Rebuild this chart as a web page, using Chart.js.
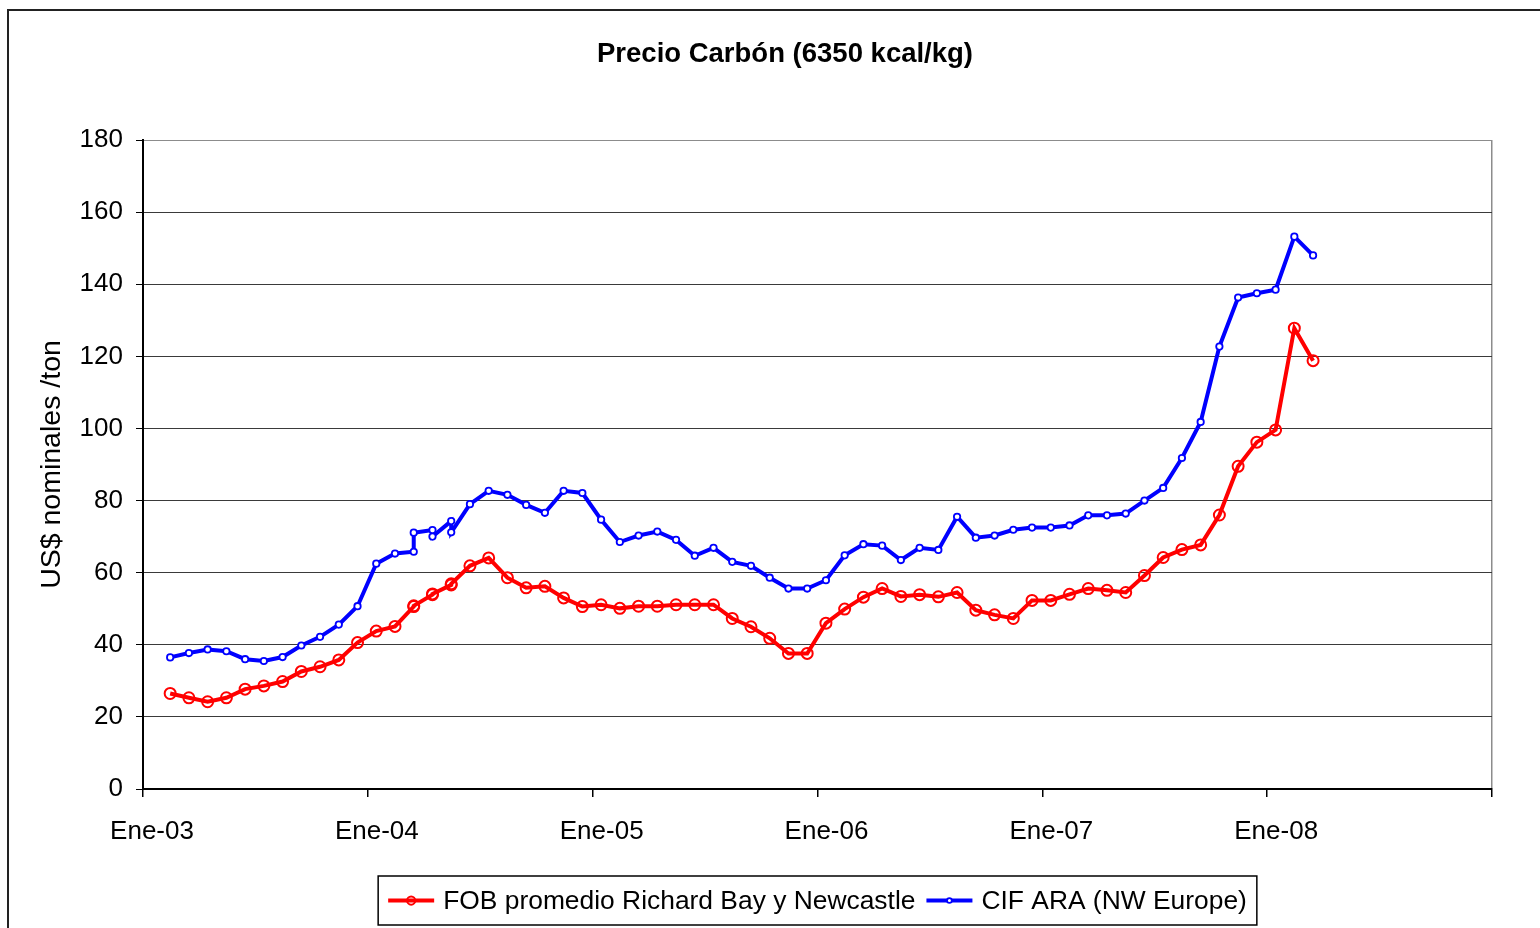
<!DOCTYPE html>
<html lang="es">
<head>
  <meta charset="UTF-8">
  <title>Precio Carbón (6350 kcal/kg)</title>
  <script src="https://cdn.jsdelivr.net/npm/chart.js"></script>
  <style>
    html, body { margin: 0; padding: 0; background: #fff; }
    canvas { display: block; }
  </style>
</head>
<body>
  <canvas id="coalChart" width="1540" height="928"></canvas>
  <script>
    const FONT = "'Liberation Sans', Arial, sans-serif";

    // x position in months counted from Ene-03 (in 2004 some months carry two readings)
    const months = [1.45, 2.45, 3.45, 4.45, 5.45, 6.45, 7.45, 8.45, 9.45, 10.45, 11.45, 12.45, 13.45,
      14.45, 14.45, 15.45, 15.45, 16.45, 16.45,
      17.45, 18.45, 19.45, 20.45, 21.45, 22.45, 23.45, 24.45, 25.45, 26.45,
      27.45, 28.45, 29.45, 30.45, 31.45, 32.45, 33.45, 34.45, 35.45, 36.45,
      37.45, 38.45, 39.45, 40.45, 41.45, 42.45, 43.45, 44.45, 45.45, 46.45,
      47.45, 48.45, 49.45, 50.45, 51.45, 52.45, 53.45, 54.45, 55.45, 56.45,
      57.45, 58.45, 59.45, 60.45, 61.45, 62.45];

    // FOB promedio Richard Bay y Newcastle
    const fobValues = [26.5, 25.3, 24.2, 25.3, 27.7, 28.6, 29.8, 32.6, 33.9, 35.8, 40.6, 43.8, 45.1,
      50.6, 50.8, 53.9, 54.1, 56.6, 56.9,
      61.9, 64.1, 58.6, 55.8, 56.2, 53, 50.6, 51.1, 50.1, 50.7,
      50.7, 51.1, 51.1, 51.1, 47.3, 45, 41.8, 37.6, 37.6, 46,
      49.9, 53.2, 55.6, 53.4, 53.9, 53.3, 54.5, 49.6, 48.3, 47.3,
      52.3, 52.3, 54, 55.6, 55.1, 54.5, 59.2, 64.2, 66.4, 67.7,
      76, 89.5, 96.2, 99.6, 127.8, 118.8];

    // CIF ARA (NW Europe)
    const cifValues = [36.5, 37.7, 38.7, 38.2, 36, 35.5, 36.6, 39.8, 42.2, 45.6, 50.7, 62.5, 65.3,
      65.8, 71.1, 71.8, 70.0, 74.3, 71.2,
      79, 82.7, 81.6, 78.8, 76.6, 82.7, 82.1, 74.7, 68.5, 70.3,
      71.4, 69.1, 64.7, 66.9, 63, 61.9, 58.6, 55.6, 55.6, 57.9,
      64.8, 67.9, 67.5, 63.5, 66.9, 66.3, 75.5, 69.7, 70.3, 71.9,
      72.5, 72.5, 73.1, 75.9, 75.9, 76.4, 80, 83.5, 91.8, 101.8,
      122.7, 136.3, 137.5, 138.5, 153.2, 148];

    const xTickLabels = ['Ene-03', 'Ene-04', 'Ene-05', 'Ene-06', 'Ene-07', 'Ene-08', ''];
    const seriesNames = ['FOB promedio Richard Bay y Newcastle', 'CIF ARA (NW Europe)'];
    const chartTitle = 'Precio Carbón (6350 kcal/kg)';

    function toPoints(values) {
      return values.map((v, i) => ({ x: months[i], y: v }));
    }

    // white page, dark frame on top and left, and the title (centred on the whole Excel frame)
    const framePlugin = {
      id: 'frame',
      beforeDraw(chart) {
        const ctx = chart.ctx;
        ctx.save();
        ctx.fillStyle = '#fff';
        ctx.fillRect(0, 0, chart.width, chart.height);
        ctx.strokeStyle = '#222';
        ctx.lineWidth = 2;
        ctx.beginPath();
        ctx.moveTo(8, chart.height);
        ctx.lineTo(8, 10);
        ctx.lineTo(chart.width, 10);
        ctx.stroke();
        ctx.font = 'bold 27.5px ' + FONT;
        ctx.fillStyle = '#000';
        ctx.textAlign = 'center';
        ctx.textBaseline = 'middle';
        ctx.fillText(chartTitle, 785, 54);
        ctx.restore();
      }
    };

    // boxed legend under the axis, line sample + marker like the original
    const legendBox = {
      id: 'legendBox',
      afterDraw(chart) {
        const ctx = chart.ctx;
        const area = chart.chartArea;
        const sample = 46, gap = 9, itemGap = 11, pad = 10;
        ctx.save();
        ctx.font = '26.4px ' + FONT;
        const widths = seriesNames.map(t => ctx.measureText(t).width);
        let total = pad * 2 + itemGap * (widths.length - 1);
        widths.forEach(w => { total += sample + gap + w; });
        let x = (area.left + area.right) / 2 - total / 2;
        const top = chart.height - 52, h = 49, cy = top + h / 2;
        ctx.strokeStyle = '#000';
        ctx.lineWidth = 1.5;
        ctx.strokeRect(x, top, total, h);
        x += pad;
        chart.data.datasets.forEach((ds, i) => {
          ctx.strokeStyle = ds.borderColor;
          ctx.lineWidth = ds.borderWidth;
          ctx.beginPath();
          ctx.moveTo(x, cy);
          ctx.lineTo(x + sample, cy);
          ctx.stroke();
          ctx.lineWidth = ds.pointBorderWidth;
          ctx.fillStyle = ds.pointBackgroundColor;
          ctx.beginPath();
          ctx.arc(x + sample / 2, cy, ds.pointRadius * 0.75, 0, Math.PI * 2);
          ctx.fill();
          ctx.stroke();
          ctx.fillStyle = '#000';
          ctx.textBaseline = 'middle';
          ctx.fillText(seriesNames[i], x + sample + gap, cy + 1);
          x += sample + gap + widths[i] + itemGap;
        });
        ctx.restore();
      }
    };

    new Chart(document.getElementById('coalChart'), {
      type: 'line',
      data: {
        datasets: [{
          label: seriesNames[0],
          data: toPoints(fobValues),
          borderColor: '#ff0000',
          borderWidth: 4,
          pointRadius: 5.5,
          pointBorderWidth: 2,
          pointBorderColor: '#ff0000',
          pointBackgroundColor: 'rgba(255,255,255,0)',
          tension: 0
        }, {
          label: seriesNames[1],
          data: toPoints(cifValues),
          borderColor: '#0000ff',
          borderWidth: 4,
          pointRadius: 3.2,
          pointBorderWidth: 1.8,
          pointBorderColor: '#0000ff',
          pointBackgroundColor: '#ffffff',
          tension: 0
        }]
      },
      options: {
        responsive: false,
        devicePixelRatio: 1,
        animation: false,
        layout: { padding: { left: 0, right: 48, top: 140, bottom: 0 } },
        plugins: {
          legend: { display: false },
          tooltip: { enabled: false },
          title: { display: false }
        },
        scales: {
          x: {
            type: 'linear',
            min: 0,
            max: 72,
            afterFit(scale) { scale.height = 139; },
            border: { color: '#000', width: 2 },
            grid: {
              color: c => (c.tick && c.tick.value === 72) ? '#8c8c8c' : 'rgba(0,0,0,0)',
              tickColor: '#000',
              tickLength: 8,
              lineWidth: 1.5
            },
            ticks: {
              stepSize: 12,
              autoSkip: false,
              maxRotation: 0,
              padding: 19,
              labelOffset: 9,
              color: '#000',
              font: { family: FONT, size: 26 },
              callback: v => xTickLabels[Math.round(v / 12)]
            }
          },
          y: {
            min: 0,
            max: 180,
            afterFit(scale) { scale.width = 143; },
            border: { color: '#000', width: 2 },
            grid: {
              color: c => (c.tick && c.tick.value === 180) ? '#8c8c8c' : '#3a3a3a',
              tickColor: '#000',
              tickLength: 7,
              lineWidth: 1
            },
            ticks: {
              stepSize: 20,
              padding: 13,
              color: '#000',
              font: { family: FONT, size: 26 }
            },
            title: {
              display: true,
              text: 'US$ nominales /ton',
              color: '#000',
              font: { family: FONT, size: 28.5 },
              padding: { top: 35, bottom: 0 }
            }
          }
        }
      },
      plugins: [framePlugin, legendBox]
    });
  </script>
</body>
</html>
